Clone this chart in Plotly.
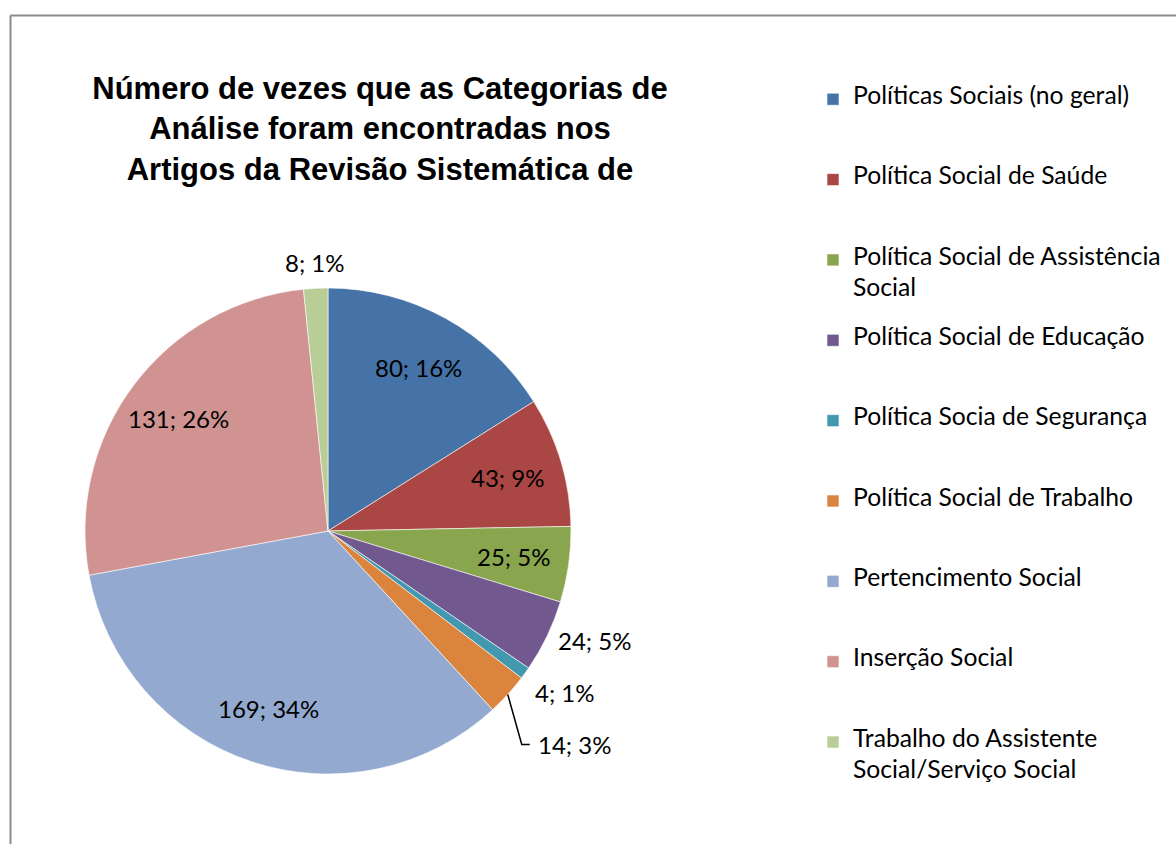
import numpy as np
import plotly.graph_objects as go

# Categories and counts
categories = [
    "Políticas Sociais (no geral)",
    "Política Social de Saúde",
    "Política Social de Assistência<br>Social",
    "Política Social de Educação",
    "Política Socia de Segurança",
    "Política Social de Trabalho",
    "Pertencimento Social",
    "Inserção Social",
    "Trabalho do Assistente<br>Social/Serviço Social",
]
counts = [80, 43, 25, 24, 4, 14, 169, 131, 8]
colors = ["#4572A7", "#AA4643", "#89A54E", "#71588F", "#4198AF",
          "#DB843D", "#93A9CF", "#D19392", "#B9CD96"]

title_text = ("Número de vezes que as Categorias de<br>"
              "Análise foram encontradas nos<br>"
              "Artigos da Revisão Sistemática de")

# Whole-number percentages that add up to 100 (largest remainder)
vals = np.array(counts, dtype=float)
total = vals.sum()
raw = vals / total * 100
pct = np.floor(raw).astype(int)
rest = 100 - pct.sum()
order = np.argsort(-(raw - np.floor(raw)))
pct[order[:rest]] += 1
slice_text = [f"{c}; {p}%" for c, p in zip(counts, pct)]

W, H = 1176, 844
# Pie placement (pixels): centre and radius
CX, CY, R = 328, 531, 243
LABEL_PX = 24
TEXT_PX = 24.7
BASE_PX = 11.9


def legend_entry(label):
    # big text inside a small base font so every entry has the same pitch
    parts = label.split("<br>")
    span = [f"<span style='font-size:{TEXT_PX}px'>{p}</span>" for p in parts]
    lines = [span[0], " ", span[1] if len(span) > 1 else " ", " ", " "]
    return "<br>".join(lines)


legend_labels = [legend_entry(c) for c in categories]


def to_paper(px, py):
    return px / W, 1 - py / H


# Slice label placement from the slice mid-angles (clockwise from 12 o'clock)
cum = np.cumsum(vals) - vals / 2
mid = cum / total * 2 * np.pi
annotations = []
shapes = []
prev_y = None
for i, (theta, share) in enumerate(zip(mid, vals / total)):
    s, c = np.sin(theta), np.cos(theta)
    if share >= 0.05:
        rho = 0.77 * R
        x, y = to_paper(CX + rho * s, CY - rho * c)
        annotations.append(dict(x=x, y=y, xref="paper", yref="paper",
                                text=slice_text[i], showarrow=False,
                                xanchor="center", yanchor="middle",
                                font=dict(family="Lato", size=LABEL_PX, color="black")))
        prev_y = None
        continue
    rim_x, rim_y = CX + R * s, CY - R * c
    lx, ly = CX + 1.04 * R * s, CY - 1.04 * R * c
    if abs(s) < 0.3:
        xanchor, yanchor = "center", "bottom" if c > 0 else "top"
    else:
        xanchor, yanchor = ("left" if s > 0 else "right"), "middle"
    pushed = 0
    if prev_y is not None and yanchor == "middle" and ly < prev_y + 52:
        pushed = prev_y + 52 - ly
        ly = prev_y + 52
    if pushed > 20:
        lx = rim_x + 28
        x0, y0 = to_paper(rim_x, rim_y)
        x1, y1 = to_paper(lx - 14, ly)
        x2, y2 = to_paper(lx - 6, ly)
        shapes.append(dict(type="path", xref="paper", yref="paper",
                           path=f"M{x0},{y0} L{x1},{y1} L{x2},{y2}",
                           line=dict(color="black", width=1.5)))
    prev_y = ly if yanchor == "middle" else None
    x, y = to_paper(lx, ly)
    annotations.append(dict(x=x, y=y, xref="paper", yref="paper",
                            text=slice_text[i], showarrow=False,
                            xanchor=xanchor, yanchor=yanchor,
                            font=dict(family="Lato", size=LABEL_PX, color="black")))

fig = go.Figure(
    go.Pie(
        labels=legend_labels,
        values=counts,
        textinfo="none",
        marker=dict(colors=colors, line=dict(color="white", width=0.6)),
        sort=False,
        direction="clockwise",
        rotation=0,
        hoverinfo="skip",
        domain=dict(x=[(CX - R) / W, (CX + R) / W],
                    y=[1 - (CY + R) / H, 1 - (CY - R) / H]),
    )
)

# Chart-area border (top and left edges)
shapes += [
    dict(type="line", xref="paper", yref="paper",
         x0=10.5 / W, x1=1.02, y0=1 - 15.5 / H, y1=1 - 15.5 / H,
         line=dict(color="#8C8C8C", width=2)),
    dict(type="line", xref="paper", yref="paper",
         x0=10.5 / W, x1=10.5 / W, y0=1 - 15.5 / H, y1=-0.02,
         line=dict(color="#8C8C8C", width=2)),
]

fig.update_layout(
    width=W,
    height=H,
    margin=dict(l=0, r=0, t=0, b=0),
    paper_bgcolor="white",
    plot_bgcolor="white",
    title=dict(
        text=title_text,
        font=dict(family="Liberation Sans", size=31, color="black", weight="bold"),
        x=380 / W,
        xanchor="center",
        y=1 - 99 / H,
        yanchor="top",
        xref="paper",
        yref="paper",
    ),
    legend=dict(
        x=813 / W,
        xanchor="left",
        y=1 - 85 / H,
        yanchor="top",
        font=dict(family="Lato", size=BASE_PX, color="black"),
        valign="top",
        bgcolor="rgba(0,0,0,0)",
        traceorder="normal",
    ),
    showlegend=True,
    annotations=annotations,
    shapes=shapes,
)

fig.write_html("out.html")
